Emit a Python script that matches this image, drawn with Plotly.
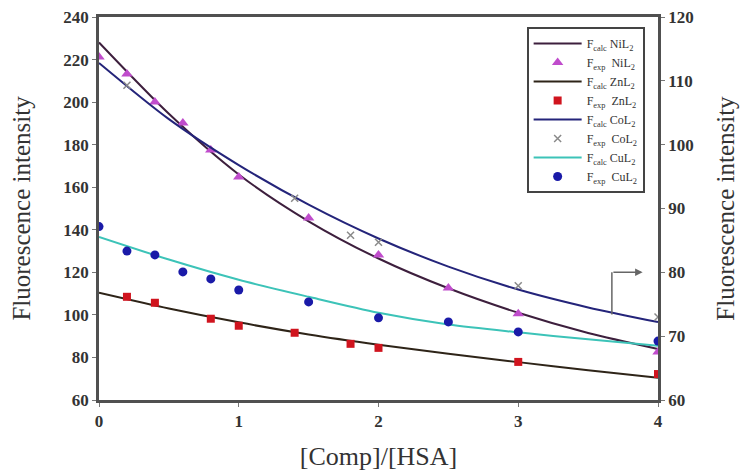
import plotly.graph_objects as go

# ---- data ----
x_calc = [0, 0.5, 1, 1.5, 2, 2.5, 3, 3.5, 4]
ni_calc = [228, 194.5, 166, 144, 126.5, 112.5, 101, 91.5, 84]
zn_calc = [110.4, 103, 96.5, 90.8, 86, 81.7, 77.8, 74, 70.5]
co_calc_right = [112.8, 104, 96.8, 90.6, 85.3, 80.9, 77.3, 74.5, 72.2]
cu_calc = [136.6, 126, 116.5, 108.5, 101, 95.5, 91.8, 88.5, 85.5]

ni_exp_x = [0, 0.2, 0.4, 0.6, 0.8, 1.0, 1.5, 2, 2.5, 3, 4]
ni_exp = [221.2, 213.2, 200.1, 190.2, 177.5, 164.8, 145.5, 128.2, 112.6, 100.5, 82.6]

zn_exp_x = [0.2, 0.4, 0.8, 1.0, 1.4, 1.8, 2, 3, 4]
zn_exp = [108.5, 105.7, 98.2, 94.9, 91.6, 86.4, 84.5, 77.9, 72.2]

co_exp_x = [0.2, 1.4, 1.8, 2, 3, 4]
co_exp_right = [109.3, 91.6, 85.8, 84.7, 77.9, 73.0]

cu_exp_x = [0, 0.2, 0.4, 0.6, 0.8, 1.0, 1.5, 2, 2.5, 3, 4]
cu_exp = [141.5, 130, 128.2, 120.2, 116.9, 111.7, 106.1, 98.6, 96.7, 92, 87.7]

x_ticks = [0, 1, 2, 3, 4]
left_ticks = [60, 80, 100, 120, 140, 160, 180, 200, 220, 240]
right_ticks = [60, 70, 80, 90, 100, 110, 120]

# arrow (annotation) position on right axis
arrow_x = [3.67, 3.89]
arrow_y_right = [73.4, 80.0]

SERIF = "Liberation Serif"
TXT = "#333333"

fig = go.Figure()

def calc(name, y, color, rank, yaxis="y"):
    fig.add_trace(go.Scatter(x=x_calc, y=y, mode="lines", name=name, yaxis=yaxis,
                             line=dict(color=color, width=2, shape="spline", smoothing=0.8),
                             legendrank=rank))

def exp(name, x, y, color, symbol, size, rank, yaxis="y"):
    fig.add_trace(go.Scatter(x=x, y=y, mode="markers", name=name, yaxis=yaxis,
                             marker=dict(color=color, symbol=symbol, size=size,
                                         line=dict(width=0)),
                             legendrank=rank))

calc("F<sub>calc</sub>&nbsp;NiL<sub>2</sub>", ni_calc, "#3d1f3d", 1)
calc("F<sub>calc</sub>&nbsp;ZnL<sub>2</sub>", zn_calc, "#2e2418", 3)
calc("F<sub>calc</sub>&nbsp;CuL<sub>2</sub>", cu_calc, "#3cc3b8", 7)
exp("F<sub>exp</sub>&nbsp;&nbsp;NiL<sub>2</sub>", ni_exp_x, ni_exp, "#c04ccc", "triangle-up", 10, 2)
exp("F<sub>exp</sub>&nbsp;&nbsp;ZnL<sub>2</sub>", zn_exp_x, zn_exp, "#d0141e", "square", 8, 4)
exp("F<sub>exp</sub>&nbsp;&nbsp;CuL<sub>2</sub>", cu_exp_x, cu_exp, "#1a1aa8", "circle", 9, 8)
calc("F<sub>calc</sub>&nbsp;CoL<sub>2</sub>", co_calc_right, "#24247a", 5, yaxis="y2")
exp("F<sub>exp</sub>&nbsp;&nbsp;CoL<sub>2</sub>", co_exp_x, co_exp_right, "#8a8a8a", "x-thin-open", 7, 6, yaxis="y2")
fig.data[-1].marker.line = dict(color="#8a8a8a", width=1.5)

axis_common = dict(showline=True, linecolor="#505050", linewidth=2.5, ticks="outside",
                   ticklen=4, tickcolor="#777777", showgrid=False, zeroline=False,
                   automargin=False,
                   tickfont=dict(family=SERIF, size=17, color=TXT, weight="bold"))

fig.update_layout(
    width=742, height=471,
    margin=dict(l=99, r=84, t=17, b=71),
    paper_bgcolor="white", plot_bgcolor="white",
    xaxis=dict(range=[0, 4], tickvals=x_ticks, mirror=True,
               title=dict(text="[Comp]/[HSA]", font=dict(family=SERIF, size=26, color=TXT),
                          standoff=22),
               **axis_common),
    yaxis=dict(range=[60, 240], tickvals=left_ticks,
               title=dict(text="Fluorescence intensity", font=dict(family=SERIF, size=25, color=TXT),
                          standoff=26),
               **axis_common),
    yaxis2=dict(range=[60, 120], tickvals=right_ticks, overlaying="y", side="right",
                title=dict(text="Fluorescence intensity", font=dict(family=SERIF, size=25, color=TXT),
                           standoff=24),
                **axis_common),
    legend=dict(x=0.765, y=0.974, xanchor="left", yanchor="top",
                bgcolor="white", bordercolor="#444444", borderwidth=2,
                font=dict(family=SERIF, size=12, color=TXT),
                tracegroupgap=0, itemwidth=48),
    showlegend=True,
)

# arrow from CoL2 curve to right axis
fig.add_shape(type="line", xref="x", yref="y2", x0=arrow_x[0], x1=arrow_x[0],
              y0=arrow_y_right[0], y1=arrow_y_right[1], line=dict(color="#666666", width=1.5))
fig.add_annotation(xref="x", yref="y2", x=arrow_x[1], y=arrow_y_right[1],
                   ax=arrow_x[0], ay=arrow_y_right[1], axref="x", ayref="y2",
                   showarrow=True, arrowhead=2, arrowsize=1, arrowwidth=1.5,
                   arrowcolor="#666666", text="")

fig.write_html("out.html")
